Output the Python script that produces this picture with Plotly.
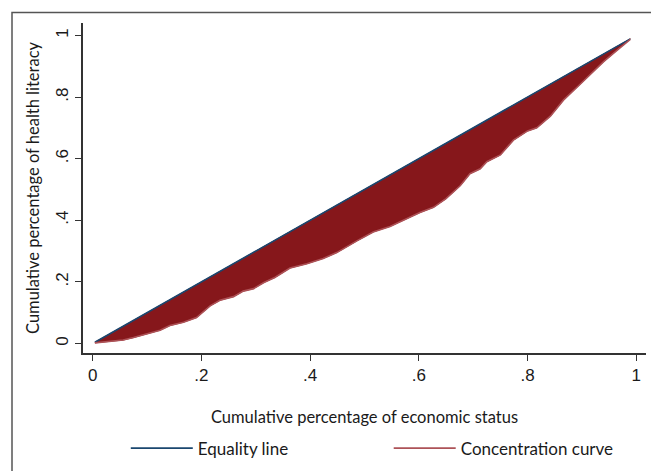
import plotly.graph_objects as go

# Concentration curve (cumulative economic status vs cumulative health literacy)
conc_x = [0.004, 0.030, 0.056, 0.075, 0.105, 0.124, 0.142, 0.167, 0.191, 0.216,
          0.234, 0.259, 0.277, 0.296, 0.315, 0.335, 0.363, 0.394, 0.424, 0.449,
          0.486, 0.516, 0.547, 0.572, 0.602, 0.627, 0.650, 0.676, 0.694, 0.713,
          0.725, 0.750, 0.774, 0.800, 0.817, 0.842, 0.866, 0.891, 0.915, 0.940,
          0.964, 0.989]
conc_y = [0.002, 0.006, 0.011, 0.019, 0.034, 0.043, 0.058, 0.069, 0.084, 0.122,
          0.140, 0.152, 0.170, 0.178, 0.198, 0.214, 0.245, 0.259, 0.276, 0.295,
          0.333, 0.362, 0.380, 0.400, 0.425, 0.442, 0.470, 0.512, 0.551, 0.567,
          0.590, 0.612, 0.660, 0.690, 0.700, 0.738, 0.790, 0.832, 0.873, 0.915,
          0.951, 0.987]
# Equality line: y = x over the same points
eq_x = conc_x
eq_y = conc_x

tick_vals = [0, 0.2, 0.4, 0.6, 0.8, 1]
tick_text = ["0", ".2", ".4", ".6", ".8", "1"]

FILL = "#86171b"
BLUE = "#1a476f"
RED_LEG = "#ad5257"
TXT = "Lato"
NUM = "Liberation Sans"

fig = go.Figure()
# shaded area between equality line and concentration curve
fig.add_trace(go.Scatter(
    x=conc_x + eq_x[::-1], y=conc_y + eq_y[::-1],
    fill="toself", fillcolor=FILL, mode="lines",
    line=dict(color=FILL, width=1), showlegend=False, hoverinfo="skip"))
fig.add_trace(go.Scatter(
    x=eq_x, y=eq_y, mode="lines", name="Equality line", legend="legend",
    line=dict(color=BLUE, width=1.6)))
fig.add_trace(go.Scatter(
    x=conc_x, y=conc_y, mode="lines", name="Concentration curve", legend="legend2",
    line=dict(color=RED_LEG, width=1.6)))

leg_common = dict(orientation="h", y=-0.235, yanchor="top", xanchor="left",
                  itemwidth=62, font=dict(family=TXT, size=17, color="#1a1a1a"),
                  bgcolor="rgba(0,0,0,0)")

fig.update_layout(
    width=651, height=471,
    margin=dict(l=83, r=5, t=23, b=104),
    paper_bgcolor="white", plot_bgcolor="white",
    font=dict(family=TXT, size=16, color="#1a1a1a"),
    legend=dict(x=0.076, **leg_common),
    legend2=dict(x=0.543, **leg_common),
    xaxis=dict(range=[-0.0179, 1.0179], tickmode="array", tickvals=tick_vals, ticktext=tick_text,
               showgrid=False, zeroline=False, showline=True, linecolor="#333",
               linewidth=1.5, ticks="outside", ticklen=6, tickcolor="#333",
               tickfont=dict(family=NUM, size=17, color="#1a1a1a"),
               title=dict(text="Cumulative percentage of economic status",
                          font=dict(family=TXT, size=16.5, color="#1a1a1a"), standoff=27)),
    yaxis=dict(range=[-0.031, 1.0405], tickmode="array", tickvals=tick_vals, ticktext=tick_text,
               showgrid=False, zeroline=False, showline=True, linecolor="#333",
               linewidth=1.5, ticks="outside", ticklen=6, tickcolor="#333",
               tickangle=-90,
               tickfont=dict(family=NUM, size=17, color="#1a1a1a"),
               title=dict(text="Cumulative percentage of health literacy",
                          font=dict(family=TXT, size=16.5, color="#1a1a1a"), standoff=10)),
    shapes=[dict(type="rect", xref="paper", yref="paper",
                 x0=-0.1261, x1=1.2, y0=-0.6, y1=1.032,
                 line=dict(color="#555", width=1.5), fillcolor="rgba(0,0,0,0)", layer="below")],
)

fig.write_html("out.html", config={"displayModeBar": False})

# remove the browser's default body margin so the figure fills the window exactly
with open("out.html", encoding="utf-8") as f:
    html = f.read()
html = html.replace("<head>", "<head><style>html,body{margin:0;padding:0;overflow:hidden;}</style>", 1)
with open("out.html", "w", encoding="utf-8") as f:
    f.write(html)
